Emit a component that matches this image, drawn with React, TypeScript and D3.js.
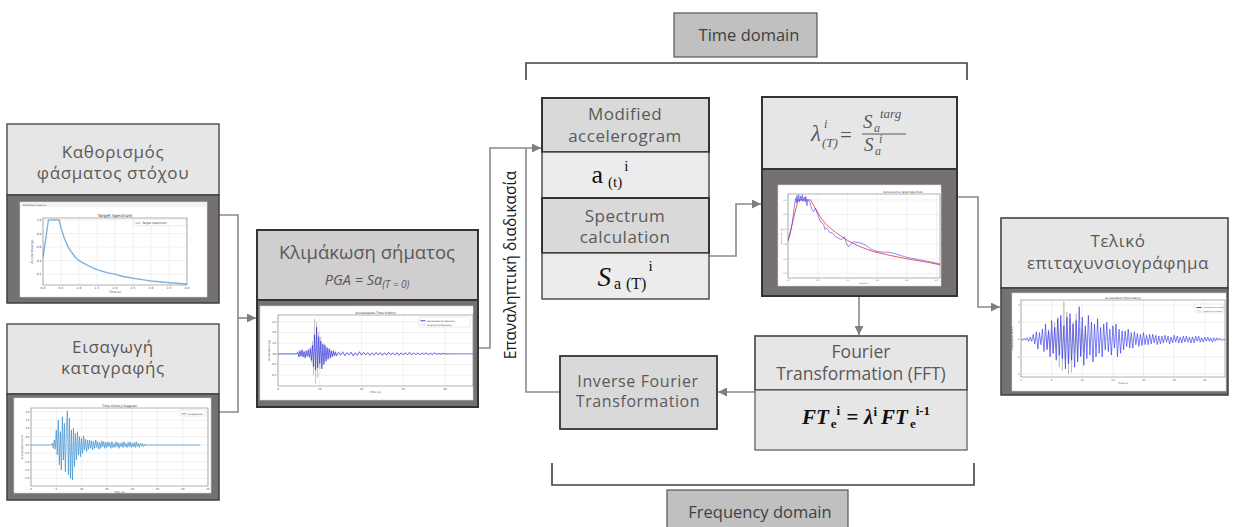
import React from "react";
import * as d3 from "d3";

// ---------- data ----------
// Target elastic spectrum (period in s, spectral acceleration in g)
const targetPeriods = [0, 0.15, 0.45, 0.5, 0.6, 0.7, 0.8, 0.9, 1.0, 1.2, 1.4, 1.6, 1.8, 2.0, 2.2, 2.5, 2.8, 3.0, 3.3, 3.6, 4.0];
const targetSa = [0.44, 1.0, 1.0, 0.88, 0.72, 0.6, 0.52, 0.45, 0.4, 0.34, 0.29, 0.25, 0.22, 0.2, 0.17, 0.14, 0.115, 0.1, 0.085, 0.07, 0.055];

// Input record (time-history diagram), sampled from recordStart every recordStep seconds
const recordStart = 4;
const recordStep = 0.2;
const recordEnd = 33.5;
const recordAccel = [
  0, 0.1, -0.2, 0.3, -0.25,
  0.9, -0.6, 1.5, -1.2, 0.8,
  -1.5, 1.7, -0.9, 1.3, -1.6,
  1.1, 2.05, -1.8, 1.6, -2.0,
  0.9, -2.1, 1.0, -1.3, 0.7,
  -0.9, 0.8, -0.6, 0.5, -0.7,
  0.4, -0.5, 0.55, -0.3, 0.35,
  -0.4, 0.3, -0.25, 0.3, -0.2,
  0.25, -0.3, 0.2, -0.2, 0.3,
  -0.15, 0.2, -0.25, 0.15, -0.2,
  0.25, -0.1, 0.2, -0.2, 0.15,
  -0.15, 0.2, -0.1, 0.15, -0.2,
  0.2, -0.15, 0.1, -0.15, 0.2,
  -0.1, 0.15, -0.2, 0.1, -0.1,
  0.15, -0.15, 0.2, -0.1, 0.1,
  -0.15, 0.15, -0.1, 0.2, -0.15,
  0.1, -0.1, 0.15, -0.15, 0.2,
  -0.1, 0.1, -0.15, 0.1, -0.05,
  0.1, -0.1, 0.05, -0.05, 0.05,
  0,
];

// Scaled record (PGA = Sa(T=0)): dense part and tail
const scaledStart = 4.5;
const scaledStep = 0.25;
const scaledTailStart = 14;
const scaledTailStep = 0.5;
const scaledEnd = 46.7;
const scaledGenerated = [
  0, 0.02, -0.03, 0.03,
  -0.02, 0.04, -0.03, 0.02,
  -0.04, 0.03, -0.02, 0.04,
  -0.03, 0.05, -0.06, 0.08,
  -0.12, 0.18, -0.15, 0.25,
  -0.13, 0.16, -0.09, 0.12,
  -0.14, 0.09, -0.1, 0.08,
  -0.07, 0.06, -0.05, 0.05,
  -0.04, 0.03, -0.03, 0.03,
  -0.02, 0.02,
];
const scaledGeneratedTail = [
  -0.02, 0.015, -0.01, 0.02, -0.015, 0.01, -0.01, 0.015, -0.02, 0.01,
  -0.015, 0.02, -0.01, 0.015, -0.01, 0.01, -0.015, 0.01, -0.01, 0.015,
  -0.01, 0.01, -0.015, 0.01, -0.01, 0.015, -0.01, 0.01, -0.01, 0.01,
  -0.015, 0.01, -0.01, 0.01, -0.01, 0.015, -0.01, 0.01, -0.01, 0.01,
  -0.01, 0.01, -0.005, 0.01, -0.01, 0.005, -0.005, 0.01, -0.005, 0.005,
  -0.005, 0.005, 0, 0, 0,
];
const scaledOriginal = [
  0, 0.01, -0.02, 0.02,
  -0.03, 0.03, -0.02, 0.03,
  -0.03, 0.02, -0.03, 0.03,
  -0.04, 0.06, -0.08, 0.12,
  -0.2, 0.33, -0.28, 0.3,
  -0.22, 0.2, -0.14, 0.16,
  -0.12, 0.1, -0.08, 0.09,
  -0.06, 0.05, -0.05, 0.04,
  -0.03, 0.03, -0.02, 0.02,
  -0.02, 0.01,
];
const scaledOriginalTail = [
  -0.015, 0.02, -0.015, 0.01, -0.02, 0.015, -0.01, 0.02, -0.015, 0.01,
  -0.01, 0.015, -0.015, 0.01, -0.01, 0.015, -0.01, 0.01, -0.015, 0.01,
  -0.01, 0.015, -0.01, 0.01, -0.015, 0.01, -0.01, 0.01, -0.01, 0.015,
  -0.01, 0.01, -0.01, 0.015, -0.01, 0.01, -0.01, 0.01, -0.005, 0.01,
  -0.01, 0.005, -0.005, 0.01, -0.005, 0.005, -0.005, 0.005, 0, 0,
  0, 0, 0, 0, 0,
];

// Generated vs target response spectrum
const matchTargetT = [0, 0.17, 0.38, 0.45, 0.55, 0.65, 0.8, 1.0, 1.2, 1.43, 1.7, 2.0, 2.3, 2.56];
const matchTargetSa = [0.44, 1.0, 1.0, 0.9, 0.76, 0.66, 0.56, 0.45, 0.37, 0.3, 0.25, 0.2, 0.16, 0.12];
const matchGeneratedT = [
  0, 0.04, 0.07, 0.09, 0.11, 0.13, 0.14, 0.15, 0.16, 0.18, 0.19, 0.21, 0.22, 0.24, 0.25, 0.27, 0.29, 0.3,
  0.32, 0.33, 0.35, 0.37, 0.4, 0.43, 0.46, 0.5, 0.55, 0.6, 0.62, 0.65, 0.7, 0.75, 0.8, 0.85, 0.9, 0.95,
  0.98, 1.02, 1.06, 1.1, 1.2, 1.3, 1.4, 1.5, 1.6, 1.7, 1.8, 2.0, 2.2, 2.4, 2.56,
];
const matchGeneratedSa = [
  0.45, 0.55, 0.68, 0.8, 0.93, 1.02, 0.96, 1.06, 0.98, 1.07, 0.97, 1.05, 0.99, 1.07, 0.98, 1.04, 0.97, 1.05,
  0.92, 1.0, 0.99, 0.96, 0.87, 0.84, 0.89, 0.8, 0.7, 0.67, 0.6, 0.62, 0.56, 0.55, 0.5, 0.48, 0.46, 0.5,
  0.42, 0.36, 0.4, 0.43, 0.42, 0.39, 0.33, 0.3, 0.29, 0.29, 0.27, 0.22, 0.19, 0.16, 0.13,
];

// Final accelerogram, sampled every finalStep seconds from 0
const finalStep = 0.25;
const finalGenerated = [
  0.02, -0.05, 0.08, -0.04,
  0.1, -0.12, 0.15, -0.1,
  0.3, -0.25, 0.45, -0.55,
  0.4, -0.3, 0.6, -0.7,
  0.9, -0.6, 0.5, -1.0,
  1.1, -0.8, 0.7, -1.2,
  1.2, -0.9, 1.4, -1.1,
  0.8, -1.7, 1.3, -1.4,
  1.5, -1.2, 0.9, -1.6,
  1.1, -1.3, 1.9, -1.0,
  1.3, -1.5, 0.8, -1.1,
  1.4, -0.9, 1.0, -1.3,
  0.9, -1.0, 1.2, -0.8,
  0.7, -1.0, 0.9, -0.6,
  1.0, -0.7, 0.6, -0.9,
  0.8, -0.5, 0.9, -1.0,
  0.6, -0.8, 0.5, -0.6,
  0.5, -0.4, 0.6, -0.5,
  0.4, -0.5, 0.45, -0.3,
  0.35, -0.4, 0.3, -0.35,
  0.4, -0.3, 0.25, -0.3,
  0.3, -0.25, 0.3, -0.2,
  0.25, -0.3, 0.2, -0.25,
  0.2, -0.2, 0.25, -0.15,
  0.2, -0.25, 0.15, -0.2,
  0.25, -0.15, 0.2, -0.2,
  0.15, -0.2, 0.2, -0.15,
  0.2, -0.15, 0.15, -0.2,
  0.15, -0.2, 0.2, -0.1,
  0.2, -0.15, 0.1, -0.15,
  0.15, -0.1, 0.15, -0.1,
  0.1, -0.15, 0.1, -0.1,
  0.1, -0.05, 0.08, -0.05,
  0,
];
const finalOriginalStart = 4;
const finalOriginal = [
  0.3, -0.5, 0.6, -0.4,
  0.5, -0.8, 1.0, -0.6,
  1.3, -1.6, 0.9, -1.8,
  2.2, -1.2, 1.6, -2.0,
  1.2, -1.9, 1.0, -0.8,
  1.5, -1.1, 0.7, -0.9,
  0.6, -0.7, 0.5, -0.4,
];

// Tick labels
const spectrumTicksX = [0, 0.5, 1.0, 1.5, 2.0, 2.5, 3.0, 3.5, 4.0];
const spectrumTicksY = [0.2, 0.4, 0.6, 0.8, 1.0];
const recordTicksX = [0, 5, 10, 15, 20, 25, 30, 35];
const recordTicksY = [-2.0, -1.5, -1.0, -0.5, 0, 0.5, 1.0, 1.5, 2.0];
const scaledTicksX = [0, 10, 20, 30, 40];
const scaledTicksY = [-0.2, -0.1, 0, 0.1, 0.2, 0.3];
const matchTicksX = [0, 0.5, 1.0, 1.5, 2.0, 2.5];
const matchTicksY = [0, 0.2, 0.4, 0.6, 0.8, 1.0];
const finalTicksX = [0, 5, 10, 15, 20, 25, 30];
const finalTicksY = [-2, -1, 0, 1, 2];

// ---------- helpers ----------
type Pt = [number, number];
const zip = (xs: number[], ys: number[]): Pt[] => xs.map((v, i) => [v, ys[i]] as Pt);
const sampled = (t0: number, dt: number, vals: number[]): Pt[] => vals.map((v, i) => [t0 + i * dt, v] as Pt);

interface Series { pts: Pt[]; color: string; width: number; opacity?: number }
interface LegendRow { label: string; color: string; width: number }
interface PlotProps {
  id: string;
  frame: { x: number; y: number; w: number; h: number };
  area: { x0: number; x1: number; y0: number; y1: number };
  xDomain: [number, number];
  yDomain: [number, number];
  xTicks: number[];
  yTicks: number[];
  xFmt: (v: number) => string;
  yFmt: (v: number) => string;
  series: Series[];
  title?: string;
  titleSize?: number;
  titleX?: number;
  xLabel?: string;
  yLabel?: string;
  strip?: string;
  legend?: { x: number; y: number; w: number; rows: LegendRow[]; size: number };
  fs?: number;
}

function MiniPlot(p: PlotProps) {
  const { area, frame } = p;
  const x = d3.scaleLinear().domain(p.xDomain).range([area.x0, area.x1]);
  const y = d3.scaleLinear().domain(p.yDomain).range([area.y1, area.y0]);
  const line = d3.line<Pt>().x((d) => x(d[0])).y((d) => y(d[1]));
  const fs = p.fs ?? 3;
  const tc = "#444";
  return (
    <g fontFamily="'DejaVu Sans', sans-serif">
      <rect x={frame.x} y={frame.y} width={frame.w} height={frame.h} fill="#fff" stroke="#d8d8d8" strokeWidth={0.6} />
      {p.strip && (
        <g>
          <rect x={frame.x} y={frame.y} width={frame.w} height={5} fill="#f2f2f2" />
          <text x={frame.x + 3} y={frame.y + 3.8} fontSize={2.4} fill="#555">{p.strip}</text>
        </g>
      )}
      <defs>
        <clipPath id={p.id}>
          <rect x={area.x0} y={area.y0} width={area.x1 - area.x0} height={area.y1 - area.y0} />
        </clipPath>
      </defs>
      {p.xTicks.map((t) => (
        <line key={"gx" + t} x1={x(t)} x2={x(t)} y1={area.y0} y2={area.y1} stroke="#e2e2e2" strokeWidth={0.5} />
      ))}
      {p.yTicks.map((t) => (
        <line key={"gy" + t} x1={area.x0} x2={area.x1} y1={y(t)} y2={y(t)} stroke="#e2e2e2" strokeWidth={0.5} />
      ))}
      <g clipPath={`url(#${p.id})`}>
        {p.series.map((s, i) => (
          <path key={i} d={line(s.pts) || ""} fill="none" stroke={s.color} strokeWidth={s.width} strokeOpacity={s.opacity ?? 1} strokeLinejoin="round" />
        ))}
      </g>
      <rect x={area.x0} y={area.y0} width={area.x1 - area.x0} height={area.y1 - area.y0} fill="none" stroke="#666" strokeWidth={0.5} />
      {p.xTicks.map((t) => (
        <text key={"tx" + t} x={x(t)} y={area.y1 + fs + 1.2} fontSize={fs} fill={tc} textAnchor="middle">{p.xFmt(t)}</text>
      ))}
      {p.yTicks.map((t) => (
        <text key={"ty" + t} x={area.x0 - 1.5} y={y(t) + fs * 0.35} fontSize={fs} fill={tc} textAnchor="end">{p.yFmt(t)}</text>
      ))}
      {p.title && (
        <text x={p.titleX ?? (area.x0 + area.x1) / 2} y={area.y0 - 1.5} fontSize={p.titleSize ?? fs + 0.6} fill="#333" textAnchor="middle">{p.title}</text>
      )}
      {p.xLabel && (
        <text x={(area.x0 + area.x1) / 2} y={area.y1 + 2 * fs + 2.2} fontSize={fs} fill={tc} textAnchor="middle">{p.xLabel}</text>
      )}
      {p.yLabel && (
        <text transform={`translate(${area.x0 - 3.2 * fs},${(area.y0 + area.y1) / 2}) rotate(-90)`} fontSize={fs} fill={tc} textAnchor="middle">{p.yLabel}</text>
      )}
      {p.legend && (
        <g>
          <rect x={p.legend.x} y={p.legend.y} width={p.legend.w} height={p.legend.rows.length * (p.legend.size + 1.6) + 2} fill="#fff" stroke="#ccc" strokeWidth={0.4} rx={0.6} />
          {p.legend.rows.map((r, i) => {
            const cy = p.legend!.y + 1.8 + (i + 0.5) * (p.legend!.size + 1.6);
            return (
              <g key={r.label}>
                <line x1={p.legend!.x + 1.5} x2={p.legend!.x + 6.5} y1={cy} y2={cy} stroke={r.color} strokeWidth={r.width} />
                <text x={p.legend!.x + 8} y={cy + p.legend!.size * 0.35} fontSize={p.legend!.size} fill="#444">{r.label}</text>
              </g>
            );
          })}
        </g>
      )}
    </g>
  );
}

const HEAD = "#595959";
const LINK = "#8a8a8a";
const PANEL = "#767171";

function Box({ x, y, w, h, fill, stroke = "#444", sw = 1.5 }: { x: number; y: number; w: number; h: number; fill: string; stroke?: string; sw?: number }) {
  return <rect x={x} y={y} width={w} height={h} fill={fill} stroke={stroke} strokeWidth={sw} />;
}

// Two-line box caption
function Label({ x, y, gap, lines, size, spacing = 0, color = HEAD }: { x: number; y: number; gap: number; lines: string[]; size: number; spacing?: number; color?: string }) {
  return (
    <g>
      {lines.map((l, i) => (
        <text key={l} x={x} y={y + i * gap} fontSize={size} letterSpacing={spacing} fill={color} textAnchor="middle">{l}</text>
      ))}
    </g>
  );
}

export default function App() {
  const recordPts: Pt[] = [[0, 0], ...sampled(recordStart, recordStep, recordAccel), [recordEnd, 0]];
  const scaledGenPts: Pt[] = [[0, 0], ...sampled(scaledStart, scaledStep, scaledGenerated), ...sampled(scaledTailStart, scaledTailStep, scaledGeneratedTail), [scaledEnd, 0]];
  const scaledOrigPts: Pt[] = [[0, 0], ...sampled(scaledStart, scaledStep, scaledOriginal), ...sampled(scaledTailStart, scaledTailStep, scaledOriginalTail)];
  const finalGenPts: Pt[] = [...sampled(0, finalStep, finalGenerated), [34, 0]];
  const finalOrigPts: Pt[] = sampled(finalOriginalStart, finalStep, finalOriginal);

  const f1 = (v: number) => v.toFixed(1);
  const f0 = (v: number) => String(v);

  return (
    <svg
      width={1233}
      height={527}
      viewBox="0 0 1233 527"
      style={{ position: "absolute", left: 0, top: 0, background: "#fff" }}
      fontFamily="'Open Sans', 'Noto Sans', sans-serif"
    >
      <defs>
        <marker id="arrow" viewBox="0 0 10 10" refX="10" refY="5" markerUnits="userSpaceOnUse" markerWidth="10" markerHeight="9" orient="auto">
          <path d="M0,0 L10,5 L0,10 Z" fill="#7f7f7f" />
        </marker>
      </defs>
      <rect width={1233} height={527} fill="#fff" />

      {/* connectors */}
      <g fill="none" stroke={LINK} strokeWidth={1.6}>
        <path d="M219,215 H238 V412 H219" />
        <path d="M238,318 H256" markerEnd="url(#arrow)" />
        <path d="M478,348 H490 V148 H541" markerEnd="url(#arrow)" />
        <path d="M560,392 H526 V148" />
        <path d="M709,256 H736 V204 H761" markerEnd="url(#arrow)" />
        <path d="M957,197 H978 V307 H1000" markerEnd="url(#arrow)" />
        <path d="M859,296 V335" markerEnd="url(#arrow)" />
        <path d="M755,392 H718" markerEnd="url(#arrow)" />
      </g>

      {/* domain brackets */}
      <path d="M526,80 V63 H967 V80" fill="none" stroke="#404040" strokeWidth={1.6} />
      <path d="M552,463 V485 H974 V463" fill="none" stroke="#404040" strokeWidth={1.6} />
      <Box x={674} y={13} w={143} h={44} fill="#c0c0c0" stroke="#555" sw={1.2} />
      <text x={749} y={41} fontSize={16.5} fill="#3f3f3f" textAnchor="middle">Time domain</text>
      <Box x={667} y={490} w={181} h={50} fill="#c0c0c0" stroke="#555" sw={1.2} />
      <text x={760} y={518} fontSize={16.5} fill="#3f3f3f" textAnchor="middle">Frequency domain</text>

      {/* iterative loop label */}
      <text transform="translate(516,265) rotate(-90)" fontSize={15.5} fill="#1a1a1a" textAnchor="middle">Επαναληπτική διαδικασία</text>

      {/* 1. target spectrum */}
      <Box x={7} y={124} w={212} h={71} fill="#e7e6e6" stroke="#555" />
      <Label x={113} y={158} gap={21} lines={["Καθορισμός", "φάσματος στόχου"]} size={17} spacing={0.6} />
      <Box x={7} y={195} w={212} h={108} fill={PANEL} stroke="#404040" />
      <MiniPlot
        id="c1"
        frame={{ x: 20, y: 202, w: 187, h: 95 }}
        area={{ x0: 43, x1: 187, y0: 218, y1: 285 }}
        xDomain={[0, 4]}
        yDomain={[0.04, 1.03]}
        xTicks={spectrumTicksX}
        yTicks={spectrumTicksY}
        xFmt={f1}
        yFmt={f1}
        strip="EC8 Elastic Spectra"
        title="Target Spectrum"
        titleSize={4.2}
        xLabel="Time (s)"
        yLabel="Acceleration (g)"
        series={[{ pts: zip(targetPeriods, targetSa), color: "#7fb2dd", width: 1.4 }]}
        legend={{ x: 134, y: 219, w: 52, size: 3, rows: [{ label: "Target Spectrum", color: "#7fb2dd", width: 1 }] }}
      />

      {/* 2. record input */}
      <Box x={7} y={324} w={212} h={70} fill="#e7e6e6" stroke="#555" />
      <Label x={113} y={353} gap={21} lines={["Εισαγωγή", "καταγραφής"]} size={17} spacing={0.6} />
      <Box x={7} y={394} w={212} h={106} fill={PANEL} stroke="#404040" />
      <MiniPlot
        id="c2"
        frame={{ x: 14, y: 398, w: 197, h: 95 }}
        area={{ x0: 31, x1: 208, y0: 408, y1: 486 }}
        xDomain={[0, 35]}
        yDomain={[-2.46, 2.22]}
        xTicks={recordTicksX}
        yTicks={recordTicksY}
        xFmt={f0}
        yFmt={f1}
        fs={2.6}
        title="Time-History Diagram"
        titleSize={3.2}
        xLabel="Time (s)"
        yLabel="Acceleration (m/s²)"
        series={[{ pts: recordPts, color: "#3d8fd0", width: 0.7 }]}
        legend={{ x: 180, y: 410, w: 26, size: 2.4, rows: [{ label: "Acceleration", color: "#3d8fd0", width: 0.8 }] }}
      />

      {/* 3. scaling */}
      <Box x={257} y={230} w={221} h={70} fill="#d0cece" stroke="#333" sw={2} />
      <text x={367} y={259} fontSize={18.5} fill={HEAD} textAnchor="middle">Κλιμάκωση σήματος</text>
      <text x={367} y={285} fontSize={14.5} fill={HEAD} textAnchor="middle" fontStyle="italic">
        PGA = Sa<tspan fontSize={10} dy={3}>(T = 0)</tspan>
      </text>
      <Box x={257} y={300} w={221} h={107} fill={PANEL} stroke="#333" sw={2} />
      <MiniPlot
        id="c3"
        frame={{ x: 260, y: 306, w: 213, h: 94 }}
        area={{ x0: 278, x1: 473, y0: 315, y1: 386 }}
        xDomain={[0, 46.7]}
        yDomain={[-0.3, 0.363]}
        xTicks={scaledTicksX}
        yTicks={scaledTicksY}
        xFmt={f0}
        yFmt={f1}
        fs={2.6}
        title="Acceleration-Time history"
        titleSize={3.2}
        xLabel="Time (s)"
        yLabel="Acceleration (g)"
        series={[
          { pts: scaledOrigPts, color: "#b0b0b0", width: 0.5 },
          { pts: scaledGenPts, color: "#2a2af0", width: 0.6 },
        ]}
        legend={{
          x: 419, y: 317, w: 51, size: 2.4,
          rows: [
            { label: "Generated Acceleration", color: "#2a2af0", width: 0.9 },
            { label: "Original Acceleration", color: "#b0b0b0", width: 0.5 },
          ],
        }}
      />

      {/* 4. modified accelerogram / spectrum calculation */}
      <Box x={542} y={98} w={167} h={54} fill="#d9d9d9" stroke="#333" sw={2} />
      <Label x={625} y={120} gap={21.5} lines={["Modified", "accelerogram"]} size={17} spacing={0.5} />
      <Box x={542} y={152} w={167} h={46} fill="#ececec" stroke="#444" sw={1.4} />
      <text x={610} y={183} fontFamily="'Liberation Serif', serif" fill="#111" textAnchor="middle" fontSize={26}>
        a<tspan fontSize={15} dx={5} dy={4}>(t)</tspan><tspan fontSize={15} dx={2} dy={-16}>i</tspan>
      </text>
      <Box x={542} y={198} w={167} h={55} fill="#d9d9d9" stroke="#333" sw={2} />
      <Label x={625} y={221.5} gap={21.5} lines={["Spectrum", "calculation"]} size={17} spacing={0.5} />
      <Box x={542} y={253} w={167} h={46} fill="#ececec" stroke="#444" sw={1.4} />
      <text x={625} y={286} fontFamily="'Liberation Serif', serif" fill="#111" textAnchor="middle" fontSize={27}>
        <tspan fontStyle="italic">S</tspan><tspan fontSize={16} dx={3} dy={3}>a</tspan><tspan fontSize={16} dx={5}>(T)</tspan><tspan fontSize={15} dx={2} dy={-18}>i</tspan>
      </text>

      {/* 5. scaling factor and spectrum comparison */}
      <Box x={762} y={97} w={195} h={72} fill="#e7e6e6" stroke="#333" sw={2} />
      <g fontFamily="'Liberation Serif', serif" fill={HEAD} fontStyle="italic">
        <text x={811} y={141} fontSize={23}>λ</text>
        <text x={824} y={128} fontSize={12}>i</text>
        <text x={822} y={147} fontSize={13}>(T)</text>
        <text x={840} y={142} fontSize={21} fontStyle="normal">=</text>
        <text x={863} y={128} fontSize={19}>S</text>
        <text x={874} y={132} fontSize={12}>a</text>
        <text x={880} y={118} fontSize={13}>targ</text>
        <line x1={862} x2={906} y1={134} y2={134} stroke={HEAD} strokeWidth={1.1} />
        <text x={864} y={151} fontSize={19}>S</text>
        <text x={875} y={155} fontSize={12}>a</text>
        <text x={879} y={143} fontSize={12}>i</text>
      </g>
      <Box x={762} y={169} w={195} h={127} fill={PANEL} stroke="#333" sw={2} />
      <MiniPlot
        id="c4"
        frame={{ x: 778, y: 185, w: 163, h: 101 }}
        area={{ x0: 788, x1: 940, y0: 194, y1: 278 }}
        xDomain={[0, 2.56]}
        yDomain={[-0.06, 1.08]}
        xTicks={matchTicksX}
        yTicks={matchTicksY}
        xFmt={f1}
        yFmt={f1}
        fs={2}
        title="Generated vs Target Spectrum"
        titleSize={2.6}
        titleX={903}
        xLabel="Period (s)"
        yLabel="Acceleration (g)"
        series={[
          { pts: zip(matchTargetT, matchTargetSa), color: "#f05a5a", width: 1 },
          { pts: zip(matchGeneratedT, matchGeneratedSa), color: "#3c3cf5", width: 0.8, opacity: 0.75 },
        ]}
      />

      {/* 6. Fourier transformation */}
      <Box x={755} y={336} w={212} h={54} fill="#e7e6e6" stroke="#444" sw={1.6} />
      <Label x={861} y={358} gap={22} lines={["Fourier", "Transformation (FFT)"]} size={17.5} />
      <Box x={755} y={390} w={212} h={60} fill="#e7e6e6" stroke="#555" sw={1.2} />
      <text x={866} y={424} fontFamily="'Liberation Serif', serif" fill="#111" textAnchor="middle" fontSize={21} fontWeight="bold" fontStyle="italic">
        FT<tspan fontSize={13} fontStyle="normal" dx={2} dy={4}>e</tspan><tspan fontSize={13} fontStyle="normal" dy={-13}>i</tspan>
        <tspan dy={9} dx={6}>=</tspan><tspan dx={6}>λ</tspan><tspan fontSize={13} fontStyle="normal" dy={-8}>i</tspan>
        <tspan dy={8} dx={4}>FT</tspan><tspan fontSize={13} fontStyle="normal" dx={2} dy={4}>e</tspan><tspan fontSize={13} fontStyle="normal" dy={-13}>i-1</tspan>
      </text>

      {/* 7. inverse transform */}
      <Box x={560} y={356} w={157} h={73} fill="#d9d9d9" stroke="#333" sw={1.8} />
      <Label x={638} y={387} gap={20} lines={["Inverse Fourier", "Transformation"]} size={16} spacing={0.6} />

      {/* 8. final accelerogram */}
      <Box x={1001} y={218} w={227} h={70} fill="#e7e6e6" stroke="#444" sw={1.6} />
      <Label x={1118} y={247} gap={21.5} lines={["Τελικό", "επιταχυνσιογράφημα"]} size={17} spacing={0.6} />
      <Box x={1001} y={288} w={227} h={107} fill={PANEL} stroke="#404040" />
      <MiniPlot
        id="c5"
        frame={{ x: 1012, y: 293, w: 214, h: 98 }}
        area={{ x0: 1021, x1: 1225, y0: 300, y1: 377 }}
        xDomain={[0, 33.3]}
        yDomain={[-2.17, 2.29]}
        xTicks={finalTicksX}
        yTicks={finalTicksY}
        xFmt={f0}
        yFmt={f0}
        fs={2.4}
        title="Acceleration-Time history"
        titleSize={2.8}
        xLabel="Time (s)"
        yLabel="Acceleration (m/s²)"
        series={[
          { pts: finalOrigPts, color: "#a0a0a0", width: 0.5 },
          { pts: finalGenPts, color: "#2a2af0", width: 0.6 },
        ]}
        legend={{
          x: 1195, y: 304, w: 28, size: 1.8,
          rows: [
            { label: "Generated Acceleration", color: "#2a2af0", width: 0.9 },
            { label: "Original Acceleration", color: "#a0a0a0", width: 0.5 },
          ],
        }}
      />
    </svg>
  );
}
